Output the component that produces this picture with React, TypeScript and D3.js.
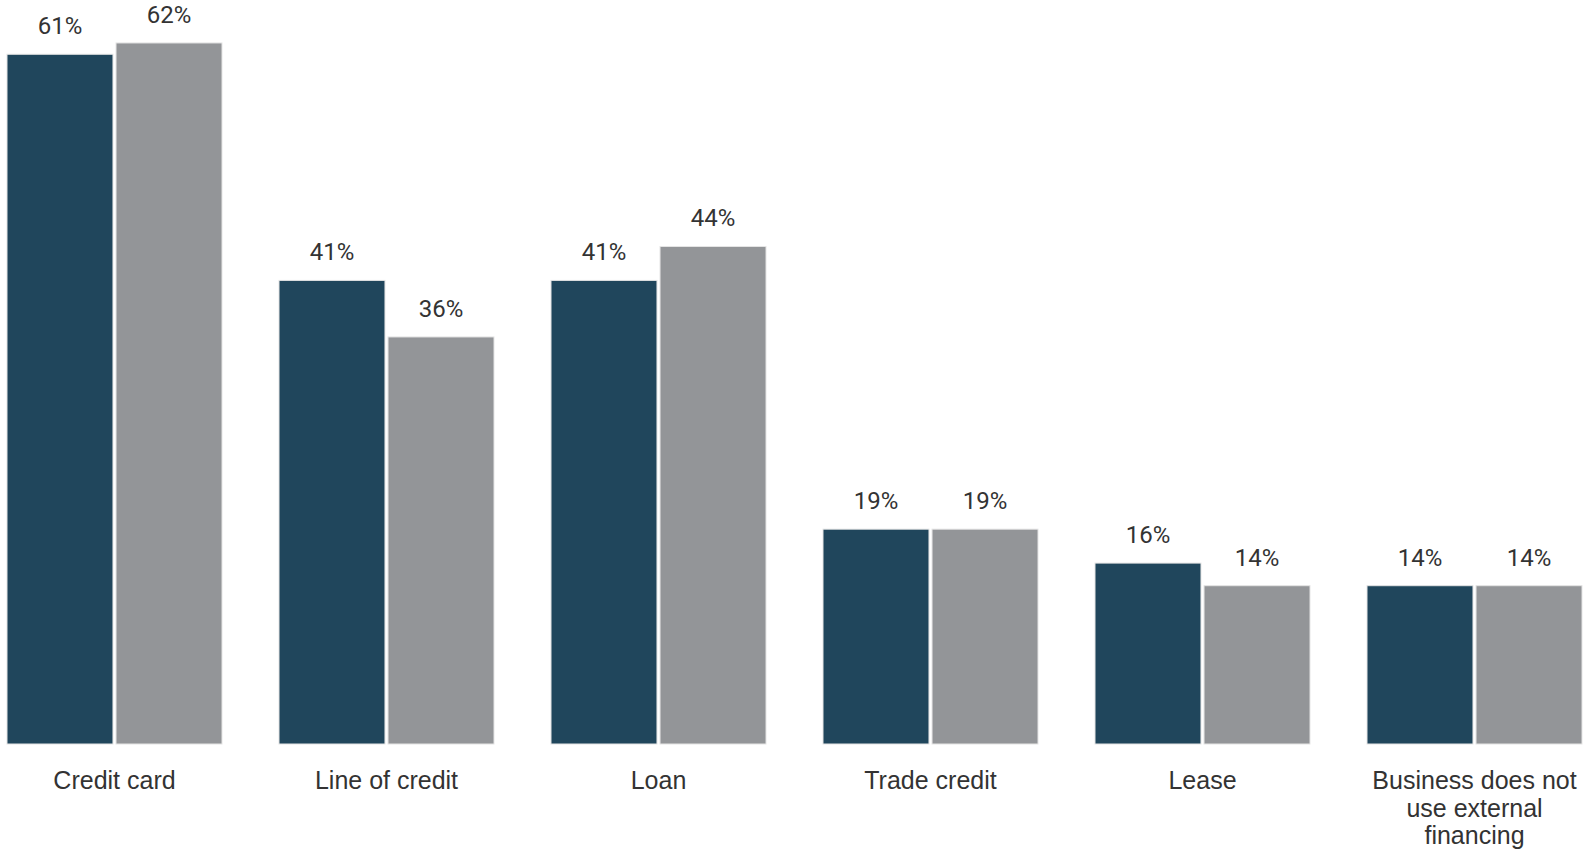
import React from "react";
import * as d3 from "d3";

const categories: string[] = [
  "Credit card",
  "Line of credit",
  "Loan",
  "Trade credit",
  "Lease",
  "Business does not use external financing",
];
const categoryLines: string[][] = [
  ["Credit card"],
  ["Line of credit"],
  ["Loan"],
  ["Trade credit"],
  ["Lease"],
  ["Business does not", "use external", "financing"],
];
const seriesNames: string[] = ["Previous year", "Current year"];
const seriesA: number[] = [61, 41, 41, 19, 16, 14];
const seriesB: number[] = [62, 36, 44, 19, 14, 14];
const colors: string[] = ["#20465c", "#939598"];

const W = 1588;
const H = 851;

export default function App() {
  const x0 = d3.scaleBand<string>().domain(categories).range([7, 1582]).paddingInner(0.2096).paddingOuter(0);
  const x1 = d3.scaleBand<string>().domain(seriesNames).range([0, x0.bandwidth()]).paddingInner(0.028).paddingOuter(0);
  const y = d3.scaleLinear().domain([0, 65.8]).range([744, 0]);
  const series = [seriesA, seriesB];

  return (
    <svg width={W} height={H} style={{ position: "absolute", left: 0, top: 0, background: "#fff" }}>
      {categories.map((c, i) => (
        <g key={c} transform={`translate(${x0(c)},0)`}>
          {seriesNames.map((s, j) => {
            const v = series[j][i];
            const bx = x1(s)!;
            return (
              <g key={s}>
                <rect
                  x={bx}
                  y={y(v)}
                  width={x1.bandwidth()}
                  height={y(0) - y(v)}
                  fill={colors[j]}
                  stroke="#e4e4e4"
                  strokeWidth={1}
                />
                <text
                  x={bx + x1.bandwidth() / 2}
                  y={y(v) - 20}
                  textAnchor="middle"
                  fontFamily="Roboto"
                  fontSize={24}
                  fill="#333"
                >
                  {v}%
                </text>
              </g>
            );
          })}
          <text
            x={x0.bandwidth() / 2}
            y={789}
            textAnchor="middle"
            fontFamily="'Liberation Sans', Arial"
            fontSize={25}
            fill="#333"
          >
            {categoryLines[i].map((ln, k) => (
              <tspan key={k} x={x0.bandwidth() / 2} dy={k === 0 ? 0 : 27.5}>
                {ln}
              </tspan>
            ))}
          </text>
        </g>
      ))}
    </svg>
  );
}
